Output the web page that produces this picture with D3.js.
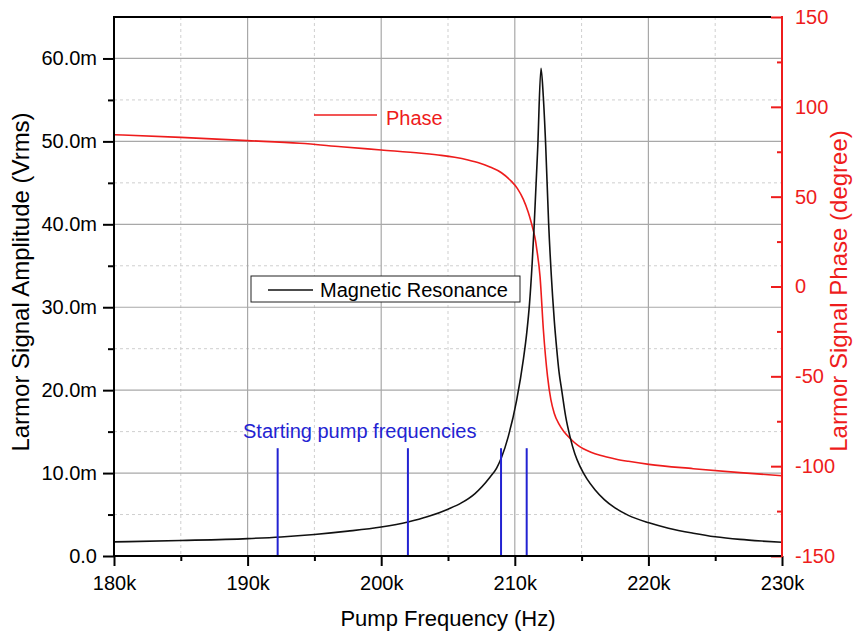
<!DOCTYPE html>
<html>
<head>
<meta charset="utf-8">
<script src="https://cdn.jsdelivr.net/npm/d3@7"></script>
<style>
  html, body { margin: 0; padding: 0; background: #fff; }
  svg { display: block; font-family: "Liberation Sans", Arial, sans-serif; }
</style>
</head>
<body>
<svg id="chart" width="855" height="633"></svg>
<script>
// ---------------- data ----------------
const ampFreqHz = [180000, 185000, 190000, 192500, 195000, 197500, 200000, 202000, 203500, 205000,
  206000, 207000, 208140, 208640, 209010, 209510, 210140, 210650, 210900, 211100, 211300, 211460, 211710,
  211960, 212130, 212310, 212530, 212830, 212960, 213130, 213310, 213510, 213810, 214130, 214500, 214880,
  215400, 216000, 216700, 217500, 218500, 220040, 221500, 223360, 225000, 226860, 228500, 230000];
const amplitudeV = [0.00170, 0.00187, 0.00210, 0.00230, 0.00260, 0.00300, 0.00350, 0.00410, 0.00475, 0.00565,
  0.00640, 0.00750, 0.00950, 0.01060, 0.01190, 0.01440, 0.01880, 0.02380, 0.02700, 0.03040, 0.03530, 0.04020, 0.04900,
  0.05880, 0.05550, 0.04960, 0.04020, 0.03130, 0.02830, 0.02510, 0.02220, 0.02000, 0.01680, 0.01440, 0.01230, 0.01080,
  0.00930, 0.00800, 0.00680, 0.00580, 0.00490, 0.00400, 0.00335, 0.00275, 0.00232, 0.00200, 0.00180, 0.00165];

const phaseFreqHz = [180000, 185000, 190000, 193900, 197000, 200000, 203000, 204500, 205500, 206500,
  207400, 208140, 209000, 209750, 210200, 210640, 211000, 211200, 211390, 211550, 211640, 211890,
  212140, 212450, 212700, 212950, 213300, 213700, 214200, 214700, 215130, 215700, 216380, 216880,
  217600, 218500, 220040, 223360, 226860, 230000];
const phaseDeg = [84.5, 83.0, 81.2, 79.7, 77.8, 76.0, 74.2, 73.0, 71.9, 70.4,
  68.6, 66.5, 63.3, 58.5, 54.5, 48.5, 41.5, 36.5, 31.0, 25.5, 21.0, 5.5,
  -24.2, -50.0, -63.0, -70.5, -76.5, -81.0, -85.0, -88.3, -90.3, -92.2, -93.9, -94.9,
  -96.1, -97.3, -99.0, -101.4, -103.6, -105.3];

const pumpStartHz = [192250, 202000, 208970, 210890];
const pumpLineTopV = 0.013;

const xMajorTicks = [180000, 190000, 200000, 210000, 220000, 230000];
const xMinorTicks = [185000, 195000, 205000, 215000, 225000];
const ampMajorTicks = [0, 0.01, 0.02, 0.03, 0.04, 0.05, 0.06];
const ampMinorTicks = [0.005, 0.015, 0.025, 0.035, 0.045, 0.055];
const phaseMajorTicks = [-150, -100, -50, 0, 50, 100, 150];
const phaseMinorTicks = [-125, -75, -25, 25, 75, 125];

// ---------------- layout ----------------
const L = 114, R = 782, T = 17, B = 556;
const RED = "#ee1c1c", BLUE = "#2323d2";

const svg = d3.select("#chart");
const x = d3.scaleLinear().domain([180000, 230000]).range([L, R]);
const yA = d3.scaleLinear().domain([0, 0.065]).range([B, T]);
const yP = d3.scaleLinear().domain([-150, 150]).range([B, T]);

// grid
const grid = svg.append("g");
grid.selectAll(".vmin").data(xMinorTicks).join("line")
  .attr("x1", d => x(d)).attr("x2", d => x(d)).attr("y1", T).attr("y2", B)
  .attr("stroke", "#cfcfcf").attr("stroke-width", 1).attr("stroke-dasharray", "3,3");
grid.selectAll(".hmin").data(ampMinorTicks).join("line")
  .attr("x1", L).attr("x2", R).attr("y1", d => yA(d)).attr("y2", d => yA(d))
  .attr("stroke", "#cfcfcf").attr("stroke-width", 1).attr("stroke-dasharray", "3,3");
grid.selectAll(".vmaj").data(xMajorTicks.slice(1, -1)).join("line")
  .attr("x1", d => x(d)).attr("x2", d => x(d)).attr("y1", T).attr("y2", B)
  .attr("stroke", "#a8a8a8").attr("stroke-width", 1.2);
grid.selectAll(".hmaj").data(ampMajorTicks.slice(1)).join("line")
  .attr("x1", L).attr("x2", R).attr("y1", d => yA(d)).attr("y2", d => yA(d))
  .attr("stroke", "#a8a8a8").attr("stroke-width", 1.2);

// clip
svg.append("clipPath").attr("id", "clip").append("rect")
  .attr("x", L).attr("y", T).attr("width", R - L).attr("height", B - T);
const plot = svg.append("g").attr("clip-path", "url(#clip)");

// phase curve
const phasePts = phaseFreqHz.map((f, i) => [f, phaseDeg[i]]);
plot.append("path").datum(phasePts)
  .attr("fill", "none").attr("stroke", RED).attr("stroke-width", 1.6)
  .attr("d", d3.line().x(d => x(d[0])).y(d => yP(d[1])).curve(d3.curveMonotoneX));

// amplitude curve
const ampPts = ampFreqHz.map((f, i) => [f, amplitudeV[i]]);
plot.append("path").datum(ampPts)
  .attr("fill", "none").attr("stroke", "#111").attr("stroke-width", 1.6)
  .attr("d", d3.line().x(d => x(d[0])).y(d => yA(d[1])).curve(d3.curveMonotoneX));

// pump start lines
plot.selectAll(".pump").data(pumpStartHz).join("line")
  .attr("x1", d => x(d)).attr("x2", d => x(d))
  .attr("y1", yA(pumpLineTopV)).attr("y2", yA(0))
  .attr("stroke", BLUE).attr("stroke-width", 2);

// axes
const fmtAmp = d => d === 0 ? "0.0" : (d * 1000).toFixed(1) + "m";
const fmtX = d => (d / 1000) + "k";
const fmtPhase = d => String(d);

function styleAxis(g, color) {
  g.select(".domain").remove();
  g.selectAll("line").attr("stroke", color).attr("stroke-width", 2);
  g.selectAll("text").attr("fill", color).attr("font-size", 20)
    .attr("font-family", '"Liberation Sans", Arial, sans-serif');
}

// left
svg.append("g").attr("transform", `translate(${L},0)`)
  .call(d3.axisLeft(yA).tickValues(ampMinorTicks).tickSize(6).tickFormat(""))
  .call(g => styleAxis(g, "#000"));
svg.append("g").attr("transform", `translate(${L},0)`)
  .call(d3.axisLeft(yA).tickValues(ampMajorTicks).tickSize(11).tickPadding(6).tickFormat(fmtAmp))
  .call(g => styleAxis(g, "#000"));
// bottom
svg.append("g").attr("transform", `translate(0,${B})`)
  .call(d3.axisBottom(x).tickValues(xMinorTicks).tickSize(5).tickFormat(""))
  .call(g => styleAxis(g, "#000"));
svg.append("g").attr("transform", `translate(0,${B})`)
  .call(d3.axisBottom(x).tickValues(xMajorTicks).tickSize(10).tickPadding(10).tickFormat(fmtX))
  .call(g => styleAxis(g, "#000"));
// right
svg.append("g").attr("transform", `translate(${R},0)`)
  .call(d3.axisRight(yP).tickValues(phaseMinorTicks).tickSize(-5).tickFormat(""))
  .call(g => styleAxis(g, RED));
svg.append("g").attr("transform", `translate(${R},0)`)
  .call(d3.axisRight(yP).tickValues(phaseMajorTicks).tickSize(-11).tickPadding(13).tickFormat(fmtPhase))
  .call(g => styleAxis(g, RED));

// frame lines
svg.append("line").attr("x1", L).attr("x2", R - 11).attr("y1", T).attr("y2", T)
  .attr("stroke", "#000").attr("stroke-width", 2);
svg.append("line").attr("x1", L).attr("x2", L).attr("y1", T - 1).attr("y2", B + 1)
  .attr("stroke", "#000").attr("stroke-width", 2);
svg.append("line").attr("x1", L - 1).attr("x2", R).attr("y1", B).attr("y2", B)
  .attr("stroke", "#000").attr("stroke-width", 2);
svg.append("line").attr("x1", R).attr("x2", R).attr("y1", T - 1).attr("y2", B + 1)
  .attr("stroke", RED).attr("stroke-width", 2);

// axis titles
svg.append("text").attr("transform", "translate(29,282) rotate(-90)")
  .attr("text-anchor", "middle").attr("font-size", 24).attr("fill", "#000")
  .text("Larmor Signal Amplitude (Vrms)");
svg.append("text").attr("transform", "translate(847,291) rotate(-90)")
  .attr("text-anchor", "middle").attr("font-size", 24).attr("fill", RED)
  .text("Larmor Signal Phase (degree)");
svg.append("text").attr("x", 448).attr("y", 626)
  .attr("text-anchor", "middle").attr("font-size", 22).attr("fill", "#000")
  .text("Pump Frequency (Hz)");

// legend: Magnetic Resonance
const lg = svg.append("g");
lg.append("rect").attr("x", 251).attr("y", 276).attr("width", 269).attr("height", 26)
  .attr("fill", "#fff").attr("stroke", "#222").attr("stroke-width", 1);
lg.append("line").attr("x1", 268).attr("x2", 313).attr("y1", 290).attr("y2", 290)
  .attr("stroke", "#111").attr("stroke-width", 1.6);
lg.append("text").attr("x", 320).attr("y", 297).attr("font-size", 20).attr("fill", "#000")
  .text("Magnetic Resonance");

// legend: Phase
svg.append("line").attr("x1", 314).attr("x2", 377).attr("y1", 115).attr("y2", 115)
  .attr("stroke", RED).attr("stroke-width", 1.6);
svg.append("text").attr("x", 386).attr("y", 125).attr("font-size", 20).attr("fill", RED)
  .text("Phase");

// annotation
svg.append("text").attr("x", 243).attr("y", 438).attr("font-size", 20).attr("fill", BLUE)
  .text("Starting pump frequencies");
</script>
</body>
</html>
